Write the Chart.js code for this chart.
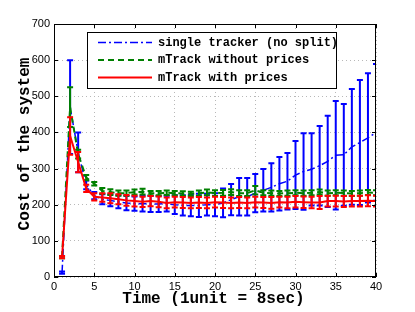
<!DOCTYPE html>
<html>
<head>
<meta charset="utf-8">
<script src="https://cdn.jsdelivr.net/npm/chart.js@4"></script>
<style>
  html, body { margin: 0; padding: 0; background: #fff; }
  #wrap { width: 415px; height: 312px; }
</style>
</head>
<body>
<div id="wrap"><canvas id="c"></canvas></div>
<script>
// time steps 1..40
const times = [1,2,3,4,5,6,7,8,9,10,11,12,13,14,15,16,17,18,19,20,
               21,22,23,24,25,26,27,28,29,30,31,32,33,34,35,36,37,38,39,40];

const singleMean = [12,470,345,255,225,215,212,208,205,203,203,202,202,203,200,198,198,198,200,200,
                    205,214,222,222,232,240,248,258,265,282,292,298,308,320,337,338,360,372,385,400];
const singleErr  = [3,130,55,12,10,14,16,18,20,20,22,22,22,22,26,28,30,32,30,32,
                    40,43,52,52,53,59,67,74,78,94,106,100,110,126,150,141,160,173,179,189];

const noPriceMean = [55,470,340,275,258,238,235,232,232,235,236,232,232,233,232,231,230,232,234,232,
                     233,235,232,232,240,233,232,231,232,233,232,233,235,232,233,232,231,232,234,233];
const noPriceErr  = [3,55,12,7,5,8,8,7,7,7,8,6,6,6,6,6,6,7,8,8,
                     8,8,8,8,12,7,7,7,7,7,7,7,7,7,7,7,7,7,7,7];

const priceMean = [55,390,318,245,222,220,218,215,212,210,208,210,208,205,207,206,205,206,205,207,
                   206,205,206,205,207,206,205,207,206,208,207,206,206,210,210,209,210,210,211,210];
const priceErr  = [3,52,28,10,10,12,14,14,15,15,14,14,15,15,15,15,15,15,15,15,
                   15,15,15,15,15,15,16,15,16,16,16,16,18,15,15,15,15,15,15,15];

const xTicks = [0,5,10,15,20,25,30,35,40];
const yTicks = [0,100,200,300,400,500,600,700];

const labels = ['single tracker (no split)', 'mTrack without prices', 'mTrack with prices'];
const xTitle = 'Time (1unit = 8sec)';
const yTitle = 'Cost of the system';

const pts = ys => times.map((t, i) => ({ x: t, y: ys[i] }));
const errs = [singleErr, noPriceErr, priceErr];

const monoBold = size => 'bold ' + size + 'px "Liberation Mono", "Courier New", monospace';

const errorBars = {
  id: 'errorBars',
  afterDatasetDraw(chart, args) {
    const ds = chart.data.datasets[args.index];
    const e = errs[args.index];
    const { ctx, scales: { x, y }, chartArea } = chart;
    ctx.save();
    ctx.beginPath();
    ctx.rect(chartArea.left, chartArea.top, chartArea.right - chartArea.left, chartArea.bottom - chartArea.top);
    ctx.clip();
    ctx.strokeStyle = ds.borderColor;
    ctx.lineWidth = 2;
    ctx.setLineDash([]);
    ds.data.forEach((p, i) => {
      const px = x.getPixelForValue(p.x);
      const top = y.getPixelForValue(p.y + e[i]);
      const bot = y.getPixelForValue(p.y - e[i]);
      ctx.beginPath();
      ctx.moveTo(px, top); ctx.lineTo(px, bot);
      ctx.moveTo(px - 3, top); ctx.lineTo(px + 3, top);
      ctx.moveTo(px - 3, bot); ctx.lineTo(px + 3, bot);
      ctx.stroke();
    });
    ctx.restore();
  }
};

const frame = {
  id: 'frame',
  afterDraw(chart) {
    const { ctx, chartArea: a, scales: { x, y } } = chart;
    ctx.save();
    ctx.strokeStyle = '#000';
    ctx.lineWidth = 1;
    ctx.setLineDash([]);
    ctx.strokeRect(a.left + 0.5, a.top + 0.5, a.right - a.left - 1, a.bottom - a.top - 1);
    ctx.beginPath();
    xTicks.forEach(v => {
      const px = Math.round(x.getPixelForValue(v)) + 0.5;
      ctx.moveTo(px, a.bottom); ctx.lineTo(px, a.bottom - 4);
      ctx.moveTo(px, a.top); ctx.lineTo(px, a.top + 4);
    });
    yTicks.forEach(v => {
      const py = Math.round(y.getPixelForValue(v)) + 0.5;
      ctx.moveTo(a.left, py); ctx.lineTo(a.left + 4, py);
      ctx.moveTo(a.right, py); ctx.lineTo(a.right - 4, py);
    });
    ctx.stroke();

    // axis titles
    ctx.fillStyle = '#000';
    ctx.font = monoBold(16);
    ctx.textAlign = 'center';
    ctx.textBaseline = 'alphabetic';
    ctx.fillText(xTitle, 213.5, 303);
    ctx.save();
    ctx.translate(28.5, 144);
    ctx.rotate(-Math.PI / 2);
    ctx.fillText(yTitle, 0, 0);
    ctx.restore();

    // legend box
    const lx = 87, ly = 32, lw = 249, lh = 56;
    ctx.fillStyle = '#fff';
    ctx.fillRect(lx, ly, lw, lh);
    ctx.strokeRect(lx + 0.5, ly + 0.5, lw, lh);
    ctx.font = monoBold(12);
    ctx.textAlign = 'left';
    ctx.textBaseline = 'middle';
    ctx.fillStyle = '#000';
    const rows = [42.5, 60, 77.5];
    chart.data.datasets.forEach((ds, i) => {
      ctx.save();
      ctx.strokeStyle = ds.borderColor;
      ctx.lineWidth = ds.borderWidth;
      ctx.setLineDash(ds.borderDash || []);
      ctx.beginPath();
      ctx.moveTo(98, rows[i]); ctx.lineTo(152, rows[i]);
      ctx.stroke();
      ctx.restore();
      ctx.fillText(ds.label, 158, rows[i]);
    });
    ctx.restore();
  }
};

const tickFont = { family: '"Liberation Sans", Arial, sans-serif', size: 11 };

new Chart(document.getElementById('c'), {
  type: 'line',
  data: {
    datasets: [
      { label: labels[0], data: pts(singleMean), borderColor: '#0000ff', borderWidth: 1.5,
        borderDash: [8, 3, 2, 3], pointRadius: 0, order: 2 },
      { label: labels[1], data: pts(noPriceMean), borderColor: '#008000', borderWidth: 2,
        borderDash: [6, 4], pointRadius: 0, order: 1 },
      { label: labels[2], data: pts(priceMean), borderColor: '#ff0000', borderWidth: 2,
        pointRadius: 0, order: 0 }
    ]
  },
  options: {
    responsive: true,
    maintainAspectRatio: false,
    animation: false,
    layout: { padding: { left: 0, right: 39, top: 24, bottom: 0 } },
    plugins: { legend: { display: false }, tooltip: { enabled: false } },
    scales: {
      x: {
        type: 'linear', min: 0, max: 40,
        afterFit: s => { s.height = 35; },
        afterBuildTicks: s => { s.ticks = xTicks.map(v => ({ value: v })); },
        ticks: { font: tickFont, color: '#000', padding: 3, maxRotation: 0 },
        grid: { color: '#b8b8b8', drawTicks: false, lineWidth: 1 },
        border: { display: false, dash: [1, 3] }
      },
      y: {
        min: 0, max: 700,
        afterFit: s => { s.width = 54; },
        afterBuildTicks: s => { s.ticks = yTicks.map(v => ({ value: v })); },
        ticks: { font: tickFont, color: '#000', padding: 4 },
        grid: { color: '#b8b8b8', drawTicks: false, lineWidth: 1 },
        border: { display: false, dash: [1, 3] }
      }
    }
  },
  plugins: [errorBars, frame]
});
</script>
</body>
</html>
